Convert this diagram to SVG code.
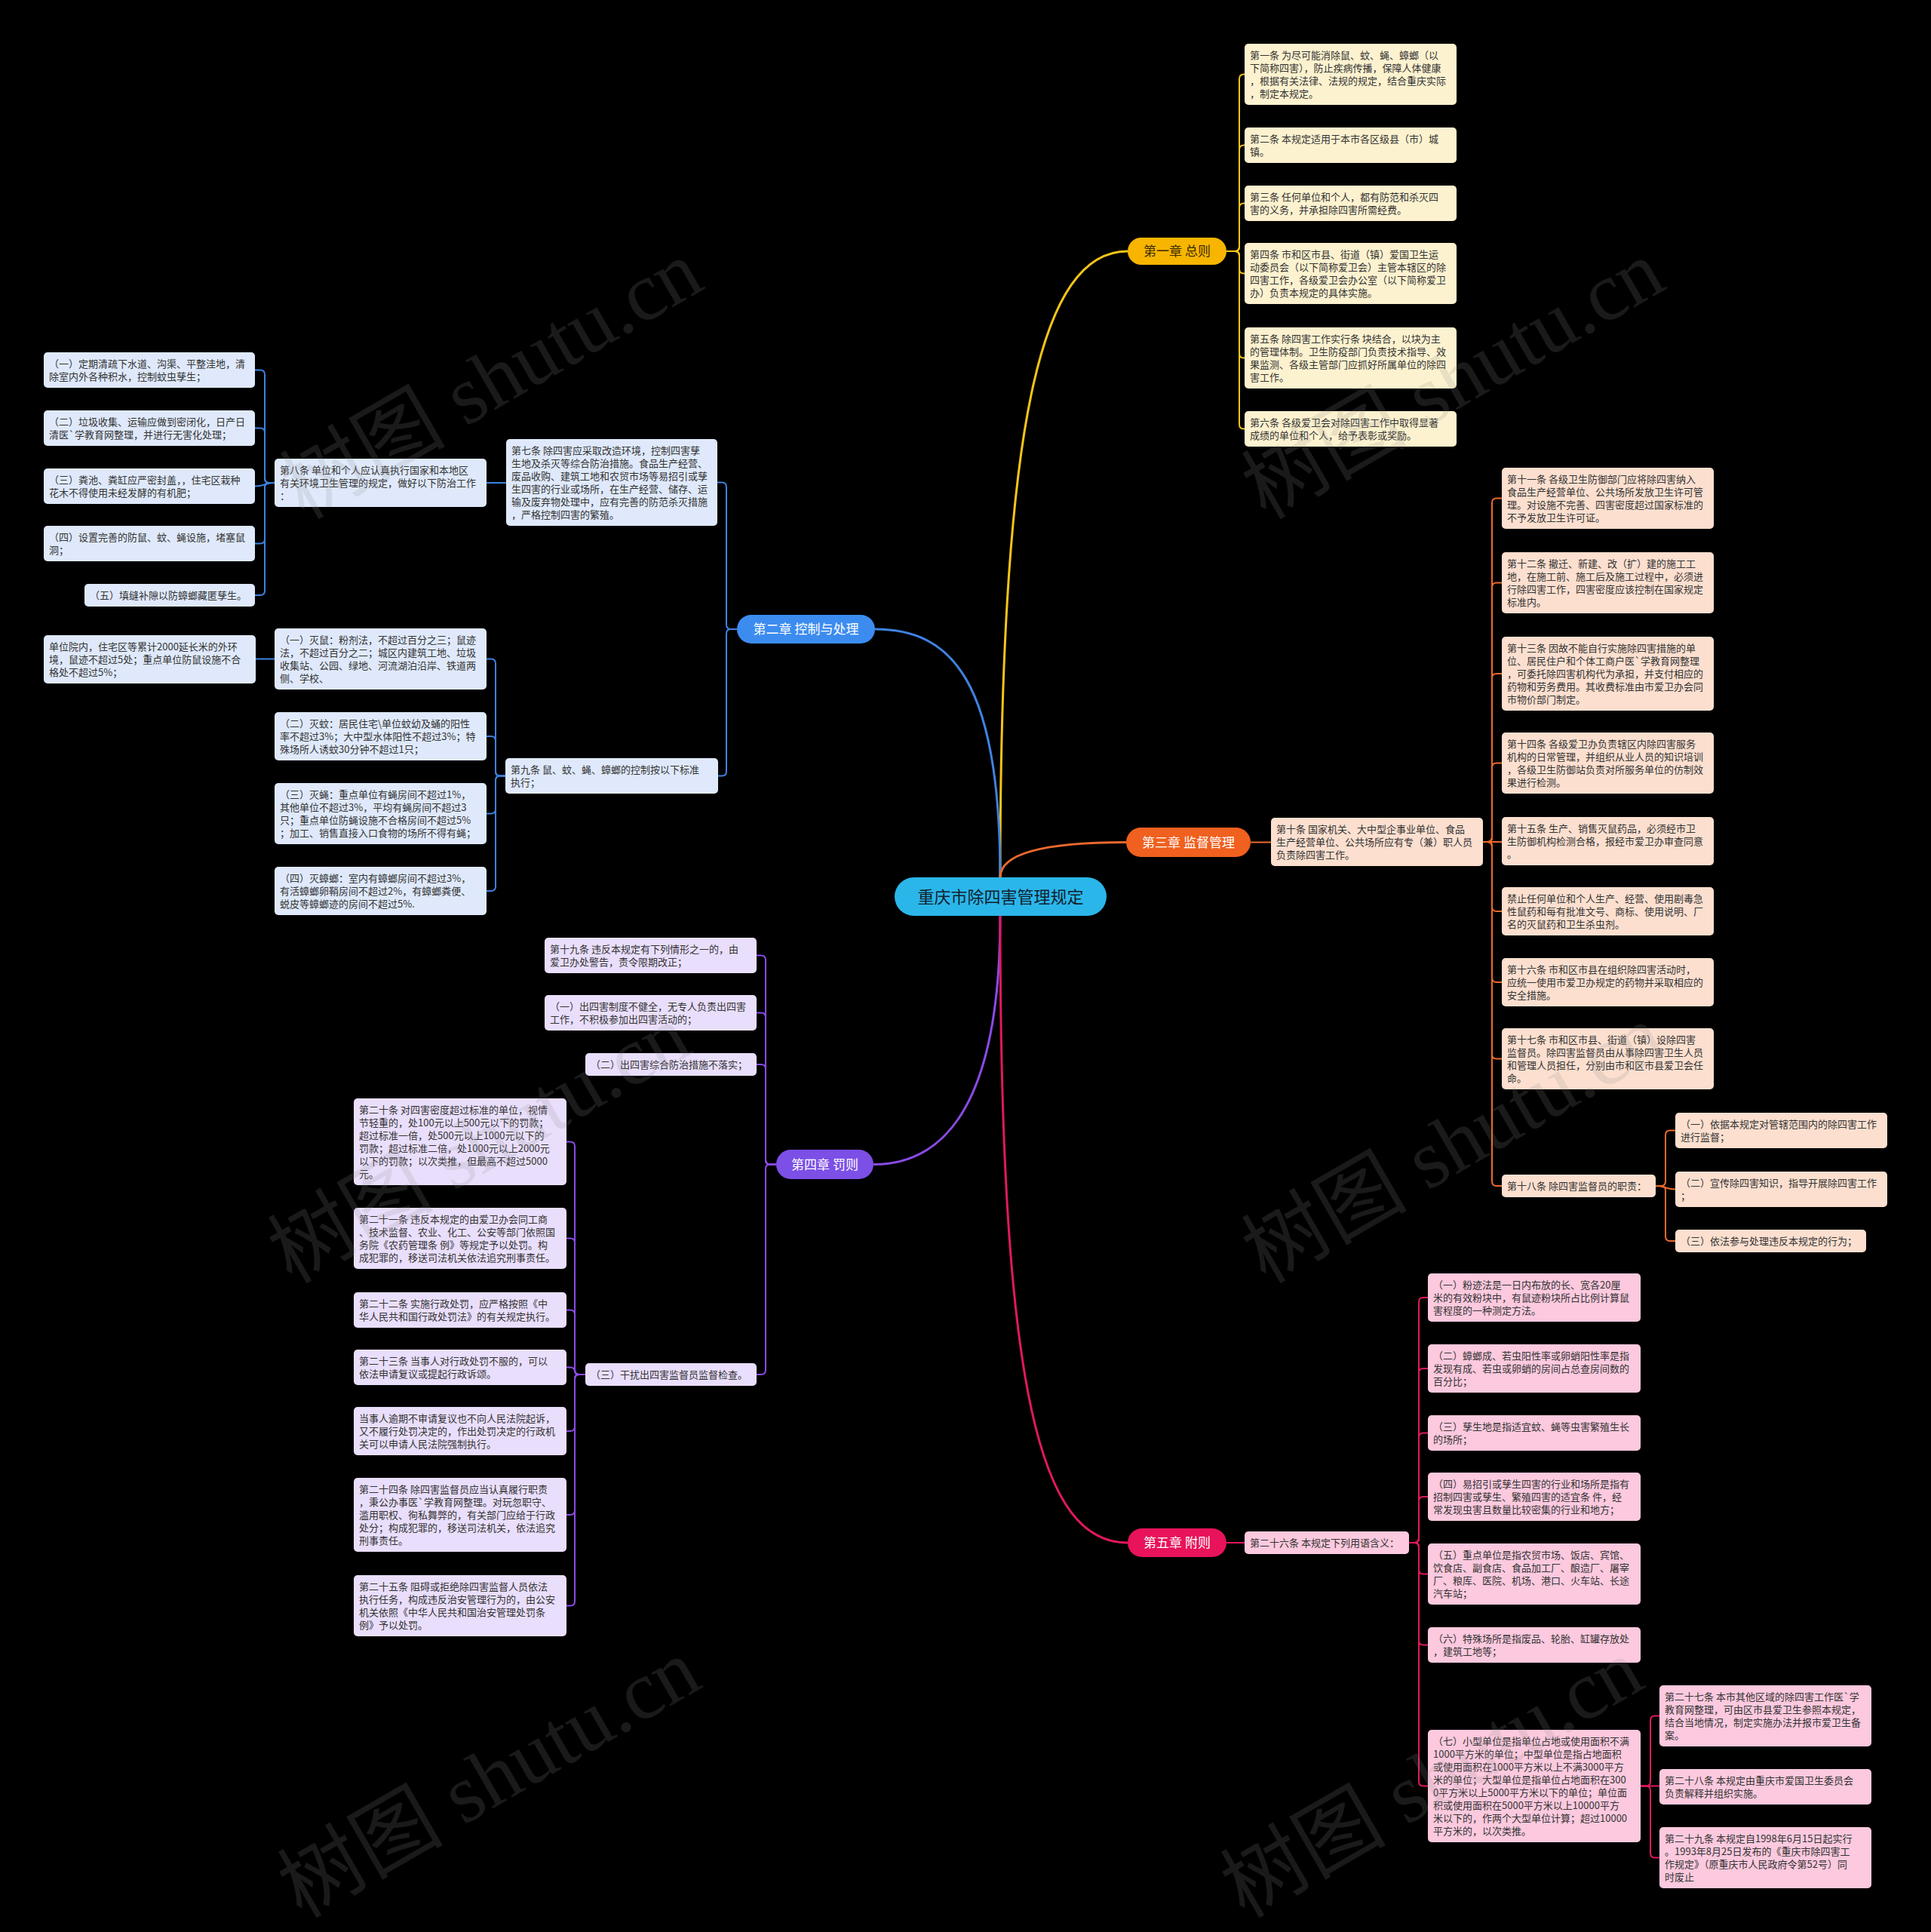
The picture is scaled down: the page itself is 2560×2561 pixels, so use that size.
<svg xmlns="http://www.w3.org/2000/svg" width="2560" height="2561" viewBox="0 0 2560 2561">
<style>
.t{font-family:"Noto Sans CJK SC","Noto Sans",sans-serif;font-size:13px;fill:#333}
.pt{font-family:"Noto Sans CJK SC","Noto Sans",sans-serif;font-size:17px;fill:#fff;text-anchor:middle}
.b1{fill:#fdf2cf}.b2{fill:#dfe9fb}.b3{fill:#fcdfcf}.b4{fill:#e9defc}.b5{fill:#fcc9de}
.c{fill:none;stroke-width:2}
.c1{stroke:#f5c518}.c2{stroke:#3f82e0}.c3{stroke:#ec6a2e}.c4{stroke:#8a4be6}.c5{stroke:#e0195c}
.m{fill:none;stroke-width:3}
.wm{font-family:"Liberation Serif","Noto Sans CJK SC",serif;font-size:110px;fill:#909090;fill-opacity:0.18}
</style>
<rect width="2560" height="2561" fill="#000"/>
<g id="connectors">
<path class="m c1" d="M1326 1163C1326 560 1380 333 1495 333"/>
<path class="m c2" d="M1326 1163C1326 900 1260 834 1160 834"/>
<path class="m c3" d="M1326 1163C1326 1130 1390 1116.5 1493 1116.5"/>
<path class="m c4" d="M1326 1214C1326 1450 1260 1543.5 1158 1543.5"/>
<path class="m c5" d="M1326 1214C1326 1850 1380 2045 1495 2045"/>
<g class="c c1">
<path d="M1626 333H1637Q1643 333 1643 327V104.5Q1643 98.5 1649 98.5H1650"/>
<path d="M1626 333H1637Q1643 333 1643 327V198.5Q1643 192.5 1649 192.5H1650"/>
<path d="M1626 333H1637Q1643 333 1643 327V275.5Q1643 269.5 1649 269.5H1650"/>
<path d="M1626 333H1637Q1643 333 1643 339V356.5Q1643 362.5 1649 362.5H1650"/>
<path d="M1626 333H1637Q1643 333 1643 339V468.5Q1643 474.5 1649 474.5H1650"/>
<path d="M1626 333H1637Q1643 333 1643 339V562.5Q1643 568.5 1649 568.5H1650"/>
</g>
<g class="c c2">
<path d="M977 834H969Q963 834 963 828V645.5Q963 639.5 957 639.5H951"/>
<path d="M977 834H969Q963 834 963 840V1022.5Q963 1028.5 957 1028.5H952"/>
<path d="M671 640H645"/>
<path d="M364 640H357Q351 640 351 634V496.5Q351 490.5 345 490.5H338"/>
<path d="M364 640H357Q351 640 351 634V573.5Q351 567.5 345 567.5H338"/>
<path d="M364 640C351 640 351 644.5 338 644.5"/>
<path d="M364 640H357Q351 640 351 646V714.5Q351 720.5 345 720.5H338"/>
<path d="M364 640H357Q351 640 351 646V783Q351 789 345 789H338"/>
<path d="M670 1028.5H663Q657 1028.5 657 1022.5V879.5Q657 873.5 651 873.5H645"/>
<path d="M670 1028.5H663Q657 1028.5 657 1022.5V982Q657 976 651 976H645"/>
<path d="M670 1028.5H663Q657 1028.5 657 1034.5V1072.5Q657 1078.5 651 1078.5H645"/>
<path d="M670 1028.5H663Q657 1028.5 657 1034.5V1175Q657 1181 651 1181H645"/>
<path d="M364 873.5H339"/>
</g>
<g class="c c3">
<path d="M1658 1116.5H1685"/>
<path d="M1966 1116H1972Q1978 1116 1978 1110V666.5Q1978 660.5 1984 660.5H1991"/>
<path d="M1966 1116H1972Q1978 1116 1978 1110V778.5Q1978 772.5 1984 772.5H1991"/>
<path d="M1966 1116H1972Q1978 1116 1978 1110V899Q1978 893 1984 893H1991"/>
<path d="M1966 1116H1972Q1978 1116 1978 1110V1017.5Q1978 1011.5 1984 1011.5H1991"/>
<path d="M1966 1116H1991"/>
<path d="M1966 1116H1972Q1978 1116 1978 1122V1202Q1978 1208 1984 1208H1991"/>
<path d="M1966 1116H1972Q1978 1116 1978 1122V1296Q1978 1302 1984 1302H1991"/>
<path d="M1966 1116H1972Q1978 1116 1978 1122V1397.5Q1978 1403.5 1984 1403.5H1991"/>
<path d="M1966 1116H1972Q1978 1116 1978 1122V1566Q1978 1572 1984 1572H1991"/>
<path d="M2195 1572H2202Q2208 1572 2208 1566V1504.5Q2208 1498.5 2214 1498.5H2221"/>
<path d="M2195 1572C2208 1572 2208 1576.5 2221 1576.5"/>
<path d="M2195 1572H2202Q2208 1572 2208 1578V1639Q2208 1645 2214 1645H2221"/>
</g>
<g class="c c4">
<path d="M1029 1543.5H1021Q1015 1543.5 1015 1537.5V1272.5Q1015 1266.5 1009 1266.5H1003"/>
<path d="M1029 1543.5H1021Q1015 1543.5 1015 1537.5V1348.5Q1015 1342.5 1009 1342.5H1003"/>
<path d="M1029 1543.5H1021Q1015 1543.5 1015 1537.5V1417Q1015 1411 1009 1411H1003"/>
<path d="M1029 1543.5H1021Q1015 1543.5 1015 1549.5V1816Q1015 1822 1009 1822H1003"/>
<path d="M776 1822H768Q762 1822 762 1816V1519.5Q762 1513.5 756 1513.5H751"/>
<path d="M776 1822H768Q762 1822 762 1816V1647.5Q762 1641.5 756 1641.5H751"/>
<path d="M776 1822H768Q762 1822 762 1816V1742.5Q762 1736.5 756 1736.5H751"/>
<path d="M776 1822H768Q762 1822 762 1816V1818.5Q762 1812.5 756 1812.5H751"/>
<path d="M776 1822H768Q762 1822 762 1828V1891Q762 1897 756 1897H751"/>
<path d="M776 1822H768Q762 1822 762 1828V2002Q762 2008 756 2008H751"/>
<path d="M776 1822H768Q762 1822 762 1828V2122.5Q762 2128.5 756 2128.5H751"/>
</g>
<g class="c c5">
<path d="M1626 2045H1650"/>
<path d="M1868 2045H1875Q1881 2045 1881 2039V1726Q1881 1720 1887 1720H1893"/>
<path d="M1868 2045H1875Q1881 2045 1881 2039V1820Q1881 1814 1887 1814H1893"/>
<path d="M1868 2045H1875Q1881 2045 1881 2039V1905.5Q1881 1899.5 1887 1899.5H1893"/>
<path d="M1868 2045H1875Q1881 2045 1881 2039V1990Q1881 1984 1887 1984H1893"/>
<path d="M1868 2045H1875Q1881 2045 1881 2051V2080.5Q1881 2086.5 1887 2086.5H1893"/>
<path d="M1868 2045H1875Q1881 2045 1881 2051V2174.5Q1881 2180.5 1887 2180.5H1893"/>
<path d="M1868 2045H1875Q1881 2045 1881 2051V2361.5Q1881 2367.5 1887 2367.5H1893"/>
<path d="M2175 2367.5H2182Q2188 2367.5 2188 2361.5V2280.5Q2188 2274.5 2194 2274.5H2200"/>
<path d="M2175 2367.5H2200"/>
<path d="M2175 2367.5H2182Q2188 2367.5 2188 2373.5V2456.5Q2188 2462.5 2194 2462.5H2200"/>
</g>
</g>

<g id="n-root"><rect x="1186" y="1163" width="281" height="51" rx="25.5" fill="#2bb6ea"/><text x="1326.5" y="1197" class="pt" style="font-size:22px;fill:#10202c">重庆市除四害管理规定</text></g>
<g id="n-ch1"><rect x="1495" y="315" width="131" height="36" rx="18" fill="#f7b500"/><text x="1560.5" y="339" class="pt" style="fill:#3a2a00">第一章 总则</text></g>
<g id="n-ch2"><rect x="977" y="815" width="183" height="38" rx="19" fill="#3c8cf0"/><text x="1068.5" y="840" class="pt">第二章 控制与处理</text></g>
<g id="n-ch3"><rect x="1493" y="1097" width="165" height="39" rx="19.5" fill="#f0601e"/><text x="1575.5" y="1122.5" class="pt">第三章 监督管理</text></g>
<g id="n-ch4"><rect x="1029" y="1524" width="129" height="39" rx="19.5" fill="#7c4fe6"/><text x="1093.5" y="1549.5" class="pt">第四章 罚则</text></g>
<g id="n-ch5"><rect x="1495" y="2026" width="131" height="38" rx="19" fill="#e8135a"/><text x="1560.5" y="2051" class="pt">第五章 附则</text></g>

<g id="n-a1"><rect class="b1" x="1650" y="58" width="281" height="81" rx="5"/><text class="t"><tspan x="1657" y="78">第一条 为尽可能消除鼠、蚊、蝇、蟑螂（以</tspan><tspan x="1657" y="95">下简称四害），防止疾病传播，保障人体健康</tspan><tspan x="1657" y="112">，根据有关法律、法规的规定，结合重庆实际</tspan><tspan x="1657" y="129">，制定本规定。</tspan></text></g>
<g id="n-a2"><rect class="b1" x="1650" y="169" width="281" height="47" rx="5"/><text class="t"><tspan x="1657" y="189">第二条 本规定适用于本市各区级县（市）城</tspan><tspan x="1657" y="206">镇。</tspan></text></g>
<g id="n-a3"><rect class="b1" x="1650" y="246" width="281" height="47" rx="5"/><text class="t"><tspan x="1657" y="266">第三条 任何单位和个人，都有防范和杀灭四</tspan><tspan x="1657" y="283">害的义务，并承担除四害所需经费。</tspan></text></g>
<g id="n-a4"><rect class="b1" x="1650" y="322" width="281" height="81" rx="5"/><text class="t"><tspan x="1657" y="342">第四条 市和区市县、街道（镇）爱国卫生运</tspan><tspan x="1657" y="359">动委员会（以下简称爱卫会）主管本辖区的除</tspan><tspan x="1657" y="376">四害工作，各级爱卫会办公室（以下简称爱卫</tspan><tspan x="1657" y="393">办）负责本规定的具体实施。</tspan></text></g>
<g id="n-a5"><rect class="b1" x="1650" y="434" width="281" height="81" rx="5"/><text class="t"><tspan x="1657" y="454">第五条 除四害工作实行条 块结合，以块为主</tspan><tspan x="1657" y="471">的管理体制。卫生防疫部门负责技术指导、效</tspan><tspan x="1657" y="488">果监测、各级主管部门应抓好所属单位的除四</tspan><tspan x="1657" y="505">害工作。</tspan></text></g>
<g id="n-a6"><rect class="b1" x="1650" y="545" width="281" height="47" rx="5"/><text class="t"><tspan x="1657" y="565">第六条 各级爱卫会对除四害工作中取得显著</tspan><tspan x="1657" y="582">成绩的单位和个人，给予表彰或奖励。</tspan></text></g>

<g id="n-b7"><rect class="b2" x="671" y="582" width="280" height="115" rx="5"/><text class="t"><tspan x="678" y="602">第七条 除四害应采取改造环境，控制四害孳</tspan><tspan x="678" y="619">生地及杀灭等综合防治措施。食品生产经营、</tspan><tspan x="678" y="636">废品收购、建筑工地和农贸市场等易招引或孳</tspan><tspan x="678" y="653">生四害的行业或场所，在生产经营、储存、运</tspan><tspan x="678" y="670">输及废弃物处理中，应有完善的防范杀灭措施</tspan><tspan x="678" y="687">，严格控制四害的繁殖。</tspan></text></g>
<g id="n-b8"><rect class="b2" x="364" y="608" width="281" height="64" rx="5"/><text class="t"><tspan x="371" y="628">第八条 单位和个人应认真执行国家和本地区</tspan><tspan x="371" y="645">有关环境卫生管理的规定，做好以下防治工作</tspan><tspan x="371" y="662">：</tspan></text></g>
<g id="n-b8-1"><rect class="b2" x="58" y="467" width="280" height="47" rx="5"/><text class="t"><tspan x="65" y="487">（一）定期清疏下水道、沟渠、平整洼地，清</tspan><tspan x="65" y="504">除室内外各种积水，控制蚊虫孳生；</tspan></text></g>
<g id="n-b8-2"><rect class="b2" x="58" y="544" width="280" height="47" rx="5"/><text class="t"><tspan x="65" y="564">（二）垃圾收集、运输应做到密闭化，日产日</tspan><tspan x="65" y="581">清医`学教育网整理，并进行无害化处理；</tspan></text></g>
<g id="n-b8-3"><rect class="b2" x="58" y="621" width="280" height="47" rx="5"/><text class="t"><tspan x="65" y="641">（三）粪池、粪缸应严密封盖，，住宅区栽种</tspan><tspan x="65" y="658">花木不得使用未经发酵的有机肥；</tspan></text></g>
<g id="n-b8-4"><rect class="b2" x="58" y="697" width="280" height="47" rx="5"/><text class="t"><tspan x="65" y="717">（四）设置完善的防鼠、蚊、蝇设施，堵塞鼠</tspan><tspan x="65" y="734">洞；</tspan></text></g>
<g id="n-b8-5"><rect class="b2" x="112" y="774" width="226" height="30" rx="5"/><text class="t"><tspan x="119" y="794">（五）填缝补隙以防蟑螂藏匿孳生。</tspan></text></g>
<g id="n-b9"><rect class="b2" x="670" y="1005" width="282" height="47" rx="5"/><text class="t"><tspan x="677" y="1025">第九条 鼠、蚊、蝇、蟑螂的控制按以下标准</tspan><tspan x="677" y="1042">执行；</tspan></text></g>
<g id="n-b9-1"><rect class="b2" x="364" y="833" width="281" height="81" rx="5"/><text class="t"><tspan x="371" y="853">（一）灭鼠：粉剂法，不超过百分之三；鼠迹</tspan><tspan x="371" y="870">法，不超过百分之二；城区内建筑工地、垃圾</tspan><tspan x="371" y="887">收集站、公园、绿地、河流湖泊沿岸、铁道两</tspan><tspan x="371" y="904">侧、学校、</tspan></text></g>
<g id="n-b9-1a"><rect class="b2" x="58" y="842" width="281" height="64" rx="5"/><text class="t"><tspan x="65" y="862">单位院内，住宅区等累计2000延长米的外环</tspan><tspan x="65" y="879">境，鼠迹不超过5处；重点单位防鼠设施不合</tspan><tspan x="65" y="896">格处不超过5%；</tspan></text></g>
<g id="n-b9-2"><rect class="b2" x="364" y="944" width="281" height="64" rx="5"/><text class="t"><tspan x="371" y="964">（二）灭蚊：居民住宅\单位蚊幼及蛹的阳性</tspan><tspan x="371" y="981">率不超过3%；大中型水体阳性不超过3%；特</tspan><tspan x="371" y="998">殊场所人诱蚊30分钟不超过1只；</tspan></text></g>
<g id="n-b9-3"><rect class="b2" x="364" y="1038" width="281" height="81" rx="5"/><text class="t"><tspan x="371" y="1058">（三）灭蝇：重点单位有蝇房间不超过1%，</tspan><tspan x="371" y="1075">其他单位不超过3%，平均有蝇房间不超过3</tspan><tspan x="371" y="1092">只；重点单位防蝇设施不合格房间不超过5%</tspan><tspan x="371" y="1109">；加工、销售直接入口食物的场所不得有蝇；</tspan></text></g>
<g id="n-b9-4"><rect class="b2" x="364" y="1149" width="281" height="64" rx="5"/><text class="t"><tspan x="371" y="1169">（四）灭蟑螂：室内有蟑螂房间不超过3%，</tspan><tspan x="371" y="1186">有活蟑螂卵鞘房间不超过2%，有蟑螂粪便、</tspan><tspan x="371" y="1203">蜕皮等蟑螂迹的房间不超过5%.</tspan></text></g>

<g id="n-c10"><rect class="b3" x="1685" y="1084" width="281" height="64" rx="5"/><text class="t"><tspan x="1692" y="1104">第十条 国家机关、大中型企事业单位、食品</tspan><tspan x="1692" y="1121">生产经营单位、公共场所应有专（兼）职人员</tspan><tspan x="1692" y="1138">负责除四害工作。</tspan></text></g>
<g id="n-c11"><rect class="b3" x="1991" y="620" width="281" height="81" rx="5"/><text class="t"><tspan x="1998" y="640">第十一条 各级卫生防御部门应将除四害纳入</tspan><tspan x="1998" y="657">食品生产经营单位、公共场所发放卫生许可管</tspan><tspan x="1998" y="674">理。对设施不完善、四害密度超过国家标准的</tspan><tspan x="1998" y="691">不予发放卫生许可证。</tspan></text></g>
<g id="n-c12"><rect class="b3" x="1991" y="732" width="281" height="81" rx="5"/><text class="t"><tspan x="1998" y="752">第十二条 撤迁、新建、改（扩）建的施工工</tspan><tspan x="1998" y="769">地，在施工前、施工后及施工过程中，必须进</tspan><tspan x="1998" y="786">行除四害工作，四害密度应该控制在国家规定</tspan><tspan x="1998" y="803">标准内。</tspan></text></g>
<g id="n-c13"><rect class="b3" x="1991" y="844" width="281" height="98" rx="5"/><text class="t"><tspan x="1998" y="864">第十三条 因故不能自行实施除四害措施的单</tspan><tspan x="1998" y="881">位、居民住户和个体工商户医`学教育网整理</tspan><tspan x="1998" y="898">，可委托除四害机构代为承担，并支付相应的</tspan><tspan x="1998" y="915">药物和劳务费用。其收费标准由市爱卫办会同</tspan><tspan x="1998" y="932">市物价部门制定。</tspan></text></g>
<g id="n-c14"><rect class="b3" x="1991" y="971" width="281" height="81" rx="5"/><text class="t"><tspan x="1998" y="991">第十四条 各级爱卫办负责辖区内除四害服务</tspan><tspan x="1998" y="1008">机构的日常管理，并组织从业人员的知识培训</tspan><tspan x="1998" y="1025">，各级卫生防御站负责对所服务单位的仿制效</tspan><tspan x="1998" y="1042">果进行检测。</tspan></text></g>
<g id="n-c15"><rect class="b3" x="1991" y="1083" width="281" height="64" rx="5"/><text class="t"><tspan x="1998" y="1103">第十五条 生产、销售灭鼠药品，必须经市卫</tspan><tspan x="1998" y="1120">生防御机构检测合格，报经市爱卫办审查同意</tspan><tspan x="1998" y="1137">。</tspan></text></g>
<g id="n-c15b"><rect class="b3" x="1991" y="1176" width="281" height="64" rx="5"/><text class="t"><tspan x="1998" y="1196">禁止任何单位和个人生产、经营、使用剧毒急</tspan><tspan x="1998" y="1213">性鼠药和每有批准文号、商标、使用说明、厂</tspan><tspan x="1998" y="1230">名的灭鼠药和卫生杀虫剂。</tspan></text></g>
<g id="n-c16"><rect class="b3" x="1991" y="1270" width="281" height="64" rx="5"/><text class="t"><tspan x="1998" y="1290">第十六条 市和区市县在组织除四害活动时，</tspan><tspan x="1998" y="1307">应统一使用市爱卫办规定的药物并采取相应的</tspan><tspan x="1998" y="1324">安全措施。</tspan></text></g>
<g id="n-c17"><rect class="b3" x="1991" y="1363" width="281" height="81" rx="5"/><text class="t"><tspan x="1998" y="1383">第十七条 市和区市县、街道（镇）设除四害</tspan><tspan x="1998" y="1400">监督员。除四害监督员由从事除四害卫生人员</tspan><tspan x="1998" y="1417">和管理人员担任，分别由市和区市县爱卫会任</tspan><tspan x="1998" y="1434">命。</tspan></text></g>
<g id="n-c18"><rect class="b3" x="1991" y="1557" width="204" height="30" rx="5"/><text class="t"><tspan x="1998" y="1577">第十八条 除四害监督员的职责：</tspan></text></g>
<g id="n-c18-1"><rect class="b3" x="2221" y="1475" width="281" height="47" rx="5"/><text class="t"><tspan x="2228" y="1495">（一）依据本规定对管辖范围内的除四害工作</tspan><tspan x="2228" y="1512">进行监督；</tspan></text></g>
<g id="n-c18-2"><rect class="b3" x="2221" y="1553" width="281" height="47" rx="5"/><text class="t"><tspan x="2228" y="1573">（二）宣传除四害知识，指导开展除四害工作</tspan><tspan x="2228" y="1590">；</tspan></text></g>
<g id="n-c18-3"><rect class="b3" x="2221" y="1630" width="253" height="30" rx="5"/><text class="t"><tspan x="2228" y="1650">（三）依法参与处理违反本规定的行为；</tspan></text></g>

<g id="n-d19"><rect class="b4" x="722" y="1243" width="281" height="47" rx="5"/><text class="t"><tspan x="729" y="1263">第十九条 违反本规定有下列情形之一的，由</tspan><tspan x="729" y="1280">爱卫办处警告，责令限期改正；</tspan></text></g>
<g id="n-d19-1"><rect class="b4" x="722" y="1319" width="281" height="47" rx="5"/><text class="t"><tspan x="729" y="1339">（一）出四害制度不健全，无专人负责出四害</tspan><tspan x="729" y="1356">工作，不积极参加出四害活动的；</tspan></text></g>
<g id="n-d19-2"><rect class="b4" x="776" y="1396" width="227" height="30" rx="5"/><text class="t"><tspan x="783" y="1416">（二）出四害综合防治措施不落实；</tspan></text></g>
<g id="n-d19-3"><rect class="b4" x="776" y="1807" width="227" height="30" rx="5"/><text class="t"><tspan x="783" y="1827">（三）干扰出四害监督员监督检查。</tspan></text></g>
<g id="n-d20"><rect class="b4" x="469" y="1456" width="282" height="115" rx="5"/><text class="t"><tspan x="476" y="1476">第二十条 对四害密度超过标准的单位，视情</tspan><tspan x="476" y="1493">节轻重的，处100元以上500元以下的罚款；</tspan><tspan x="476" y="1510">超过标准一倍，处500元以上1000元以下的</tspan><tspan x="476" y="1527">罚款；超过标准二倍，处1000元以上2000元</tspan><tspan x="476" y="1544">以下的罚款；以次类推，但最高不超过5000</tspan><tspan x="476" y="1561">元。</tspan></text></g>
<g id="n-d21"><rect class="b4" x="469" y="1601" width="282" height="81" rx="5"/><text class="t"><tspan x="476" y="1621">第二十一条 违反本规定的由爱卫办会同工商</tspan><tspan x="476" y="1638">、技术监督、农业、化工、公安等部门依照国</tspan><tspan x="476" y="1655">务院《农药管理条 例》等规定予以处罚。构</tspan><tspan x="476" y="1672">成犯罪的，移送司法机关依法追究刑事责任。</tspan></text></g>
<g id="n-d22"><rect class="b4" x="469" y="1713" width="282" height="47" rx="5"/><text class="t"><tspan x="476" y="1733">第二十二条 实施行政处罚，应严格按照《中</tspan><tspan x="476" y="1750">华人民共和国行政处罚法》的有关规定执行。</tspan></text></g>
<g id="n-d23"><rect class="b4" x="469" y="1789" width="282" height="47" rx="5"/><text class="t"><tspan x="476" y="1809">第二十三条 当事人对行政处罚不服的，可以</tspan><tspan x="476" y="1826">依法申请复议或提起行政诉颂。</tspan></text></g>
<g id="n-d23b"><rect class="b4" x="469" y="1865" width="282" height="64" rx="5"/><text class="t"><tspan x="476" y="1885">当事人逾期不审请复议也不向人民法院起诉，</tspan><tspan x="476" y="1902">又不履行处罚决定的，作出处罚决定的行政机</tspan><tspan x="476" y="1919">关可以申请人民法院强制执行。</tspan></text></g>
<g id="n-d24"><rect class="b4" x="469" y="1959" width="282" height="98" rx="5"/><text class="t"><tspan x="476" y="1979">第二十四条 除四害监督员应当认真履行职责</tspan><tspan x="476" y="1996">，秉公办事医`学教育网整理。对玩忽职守、</tspan><tspan x="476" y="2013">滥用职权、徇私舞弊的，有关部门应给于行政</tspan><tspan x="476" y="2030">处分；构成犯罪的，移送司法机关，依法追究</tspan><tspan x="476" y="2047">刑事责任。</tspan></text></g>
<g id="n-d25"><rect class="b4" x="469" y="2088" width="282" height="81" rx="5"/><text class="t"><tspan x="476" y="2108">第二十五条 阻碍或拒绝除四害监督人员依法</tspan><tspan x="476" y="2125">执行任务，构成违反治安管理行为的，由公安</tspan><tspan x="476" y="2142">机关依照《中华人民共和国治安管理处罚条</tspan><tspan x="476" y="2159">例》予以处罚。</tspan></text></g>

<g id="n-e26"><rect class="b5" x="1650" y="2030" width="218" height="30" rx="5"/><text class="t"><tspan x="1657" y="2050">第二十六条 本规定下列用语含义：</tspan></text></g>
<g id="n-e26-1"><rect class="b5" x="1893" y="1688" width="282" height="64" rx="5"/><text class="t"><tspan x="1900" y="1708">（一）粉迹法是一日内布放的长、宽各20厘</tspan><tspan x="1900" y="1725">米的有效粉块中，有鼠迹粉块所占比例计算鼠</tspan><tspan x="1900" y="1742">害程度的一种测定方法。</tspan></text></g>
<g id="n-e26-2"><rect class="b5" x="1893" y="1782" width="282" height="64" rx="5"/><text class="t"><tspan x="1900" y="1802">（二）蟑螂成、若虫阳性率或卵蛸阳性率是指</tspan><tspan x="1900" y="1819">发现有成、若虫或卵蛸的房间占总查房间数的</tspan><tspan x="1900" y="1836">百分比；</tspan></text></g>
<g id="n-e26-3"><rect class="b5" x="1893" y="1876" width="282" height="47" rx="5"/><text class="t"><tspan x="1900" y="1896">（三）孳生地是指适宜蚊、蝇等虫害繁殖生长</tspan><tspan x="1900" y="1913">的场所；</tspan></text></g>
<g id="n-e26-4"><rect class="b5" x="1893" y="1952" width="282" height="64" rx="5"/><text class="t"><tspan x="1900" y="1972">（四）易招引或孳生四害的行业和场所是指有</tspan><tspan x="1900" y="1989">招制四害或孳生、繁殖四害的适宜条 件，经</tspan><tspan x="1900" y="2006">常发现虫害且数量比较密集的行业和地方；</tspan></text></g>
<g id="n-e26-5"><rect class="b5" x="1893" y="2046" width="282" height="81" rx="5"/><text class="t"><tspan x="1900" y="2066">（五）重点单位是指农贸市场、饭店、宾馆、</tspan><tspan x="1900" y="2083">饮食店、副食店、食品加工厂、酿造厂、屠宰</tspan><tspan x="1900" y="2100">厂、粮库、医院、机场、港口、火车站、长途</tspan><tspan x="1900" y="2117">汽车站；</tspan></text></g>
<g id="n-e26-6"><rect class="b5" x="1893" y="2157" width="282" height="47" rx="5"/><text class="t"><tspan x="1900" y="2177">（六）特殊场所是指废品、轮胎、缸罐存放处</tspan><tspan x="1900" y="2194">，建筑工地等；</tspan></text></g>
<g id="n-e26-7"><rect class="b5" x="1893" y="2293" width="282" height="149" rx="5"/><text class="t"><tspan x="1900" y="2313">（七）小型单位是指单位占地或使用面积不满</tspan><tspan x="1900" y="2330">1000平方米的单位；中型单位是指占地面积</tspan><tspan x="1900" y="2347">或使用面积在1000平方米以上不满3000平方</tspan><tspan x="1900" y="2364">米的单位；大型单位是指单位占地面积在300</tspan><tspan x="1900" y="2381">0平方米以上5000平方米以下的单位；单位面</tspan><tspan x="1900" y="2398">积或使用面积在5000平方米以上10000平方</tspan><tspan x="1900" y="2415">米以下的，作两个大型单位计算；超过10000</tspan><tspan x="1900" y="2432">平方米的，以次类推。</tspan></text></g>
<g id="n-e27"><rect class="b5" x="2200" y="2234" width="281" height="81" rx="5"/><text class="t"><tspan x="2207" y="2254">第二十七条 本市其他区域的除四害工作医`学</tspan><tspan x="2207" y="2271">教育网整理，可由区市县爱卫生参照本规定，</tspan><tspan x="2207" y="2288">结合当地情况，制定实施办法并报市爱卫生备</tspan><tspan x="2207" y="2305">案。</tspan></text></g>
<g id="n-e28"><rect class="b5" x="2200" y="2345" width="281" height="47" rx="5"/><text class="t"><tspan x="2207" y="2365">第二十八条 本规定由重庆市爱国卫生委员会</tspan><tspan x="2207" y="2382">负责解释并组织实施。</tspan></text></g>
<g id="n-e29"><rect class="b5" x="2200" y="2422" width="281" height="81" rx="5"/><text class="t"><tspan x="2207" y="2442">第二十九条 本规定自1998年6月15日起实行</tspan><tspan x="2207" y="2459">。1993年8月25日发布的《重庆市除四害工</tspan><tspan x="2207" y="2476">作规定》（原重庆市人民政府令第52号）同</tspan><tspan x="2207" y="2493">时废止</tspan></text></g>

<g id="watermarks" class="wm">
<text x="653" y="540" text-anchor="middle" transform="rotate(-30 653 506)">树图 shutu.cn</text>
<text x="1928" y="540" text-anchor="middle" transform="rotate(-30 1928 506)">树图 shutu.cn</text>
<text x="637" y="1553" text-anchor="middle" transform="rotate(-30 637 1519)">树图 shutu.cn</text>
<text x="1928" y="1553" text-anchor="middle" transform="rotate(-30 1928 1519)">树图 shutu.cn</text>
<text x="650" y="2394" text-anchor="middle" transform="rotate(-30 650 2360)">树图 shutu.cn</text>
<text x="1900" y="2394" text-anchor="middle" transform="rotate(-30 1900 2360)">树图 shutu.cn</text>
</g>
</svg>
